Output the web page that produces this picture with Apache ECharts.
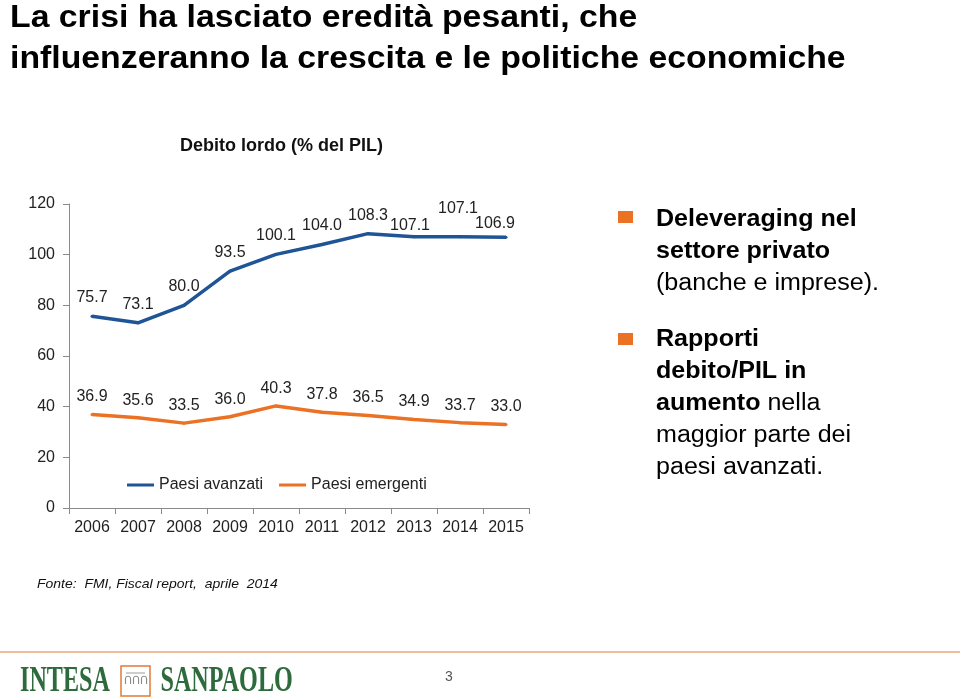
<!DOCTYPE html>
<html>
<head>
<meta charset="utf-8">
<script src="https://cdn.jsdelivr.net/npm/echarts@6/dist/echarts.min.js"></script>
<style>
html,body{margin:0;padding:0;background:#fff;}
#c{width:960px;height:697px;}
</style>
</head>
<body>
<div id="c"></div>
<script>
const years = ['2006','2007','2008','2009','2010','2011','2012','2013','2014','2015'];
const paesiAvanzati = [75.7, 73.1, 80.0, 93.5, 100.1, 104.0, 108.3, 107.1, 107.1, 106.9];
const paesiEmergenti = [36.9, 35.6, 33.5, 36.0, 40.3, 37.8, 36.5, 34.9, 33.7, 33.0];
const yTicks = [0, 20, 40, 60, 80, 100, 120];

// label nudges (style only), to mimic manual placement in the source slide
const avanzatiLabelNudge = [null,null,null,null,null,null,null,[-4,7],[-2,-10],[-11,5]];

const FONT = '"Liberation Sans", Arial, Helvetica, sans-serif';
const SERIF = '"Liberation Serif", "DejaVu Serif", serif';
const BLUE = '#1F5596';
const ORANGE = '#EB7125';

const chart = echarts.init(document.getElementById('c'), null, {renderer:'canvas'});

function buildData(vals, nudges){
  return vals.map((v,i)=>{
    const n = nudges && nudges[i];
    return n ? {value:v, label:{offset:n}} : v;
  });
}

const labelCfg = (d)=>({show:true, position:'top', distance:d, fontSize:16, color:'#222', fontFamily:FONT,
  formatter:p=>Number(p.value).toFixed(1)});

chart.setOption({
  backgroundColor:'#fff',
  animation:false,
  textStyle:{fontFamily:FONT},
  grid:{left:69, right:431, top:204, bottom:189},
  legend:{
    left:122, top:472,
    itemWidth:27, itemHeight:3, itemGap:16,
    icon:'rect',
    textStyle:{fontSize:16, color:'#222', fontFamily:FONT},
    data:['Paesi avanzati','Paesi emergenti']
  },
  xAxis:{
    type:'category', data:years, boundaryGap:true,
    axisLine:{lineStyle:{color:'#8a8a8a', width:1}},
    axisTick:{show:true, alignWithLabel:false, length:6, lineStyle:{color:'#8a8a8a'}},
    axisLabel:{fontSize:16, color:'#222', margin:12, interval:0, fontFamily:FONT},
    splitLine:{show:false}
  },
  yAxis:{
    type:'value', min:yTicks[0], max:yTicks[yTicks.length-1], interval:20,
    axisLine:{show:true, lineStyle:{color:'#8a8a8a', width:1}},
    axisTick:{show:true, length:6, lineStyle:{color:'#8a8a8a'}},
    axisLabel:{fontSize:16, color:'#222', margin:14, fontFamily:FONT},
    splitLine:{show:false}
  },
  series:[
    {
      name:'Paesi avanzati', type:'line', data:buildData(paesiAvanzati, avanzatiLabelNudge),
      symbol:'circle', symbolSize:3, showSymbol:true,
      lineStyle:{color:BLUE, width:3.5}, itemStyle:{color:BLUE},
      label:labelCfg(9)
    },
    {
      name:'Paesi emergenti', type:'line', data:paesiEmergenti,
      symbol:'circle', symbolSize:3, showSymbol:true,
      lineStyle:{color:ORANGE, width:3.5}, itemStyle:{color:ORANGE},
      label:labelCfg(8)
    }
  ],
  graphic:[
    {type:'text', x:10, y:-2, scaleX:1.09, style:{text:'La crisi ha lasciato eredità pesanti, che\ninfluenzeranno la crescita e le politiche economiche',
      font:'bold 31px '+FONT, fill:'#000', lineHeight:41, align:'left', verticalAlign:'top'}},
    {type:'text', x:180, y:136, style:{text:'Debito lordo (% del PIL)', font:'bold 18px '+FONT, fill:'#111', lineHeight:20, align:'left', verticalAlign:'top'}},
    {type:'text', x:37, y:577, scaleX:1.075, style:{text:'Fonte:  FMI, Fiscal report,  aprile  2014', font:'italic 13px '+FONT, fill:'#111', lineHeight:15, align:'left', verticalAlign:'top'}},
    // bullets
    {type:'rect', shape:{x:618, y:211, width:15, height:12}, style:{fill:ORANGE}},
    {type:'rect', shape:{x:618, y:333, width:15, height:12}, style:{fill:ORANGE}},
    {type:'text', x:656, y:204, scaleX:1.09, style:{
      text:'{b|Deleveraging nel}\n{b|settore privato}\n{n|(banche e imprese).}',
      align:'left', verticalAlign:'top',
      rich:{b:{font:'bold 23px '+FONT, fill:'#000', lineHeight:32}, n:{font:'23px '+FONT, fill:'#000', lineHeight:32}}
    }},
    {type:'text', x:656, y:324, scaleX:1.09, style:{
      text:'{b|Rapporti}\n{b|debito/PIL in}\n{b|aumento}{n| nella}\n{n|maggior parte dei}\n{n|paesi avanzati.}',
      align:'left', verticalAlign:'top',
      rich:{b:{font:'bold 23px '+FONT, fill:'#000', lineHeight:32}, n:{font:'23px '+FONT, fill:'#000', lineHeight:32}}
    }},
    // footer
    {type:'line', shape:{x1:0, y1:652, x2:960, y2:652}, style:{stroke:'#E07B3C', lineWidth:1}},
    {type:'text', x:20, y:664, scaleX:0.67, style:{text:'INTESA', font:'bold 36px '+SERIF, fill:'#2E6B3C', lineHeight:36, align:'left', verticalAlign:'top'}},
    {type:'rect', shape:{x:121, y:666, width:29, height:30}, style:{fill:'#fff', stroke:'#E07B3C', lineWidth:1.5}},
    {type:'line', shape:{x1:126, y1:673, x2:145, y2:673}, style:{stroke:'#9a9a9a', lineWidth:1}},
    {type:'text', x:135.5, y:681, style:{text:'ՈՈՈ', font:'11px '+FONT, fill:'#8a8a8a', align:'center', verticalAlign:'middle'}},
    {type:'text', x:160.5, y:664, scaleX:0.67, style:{text:'SANPAOLO', font:'bold 36px '+SERIF, fill:'#2E6B3C', lineHeight:36, align:'left', verticalAlign:'top'}},
    {type:'text', x:445, y:670, style:{text:'3', font:'14px '+FONT, fill:'#555', align:'left', verticalAlign:'top'}}
  ]
});
</script>
</body>
</html>
